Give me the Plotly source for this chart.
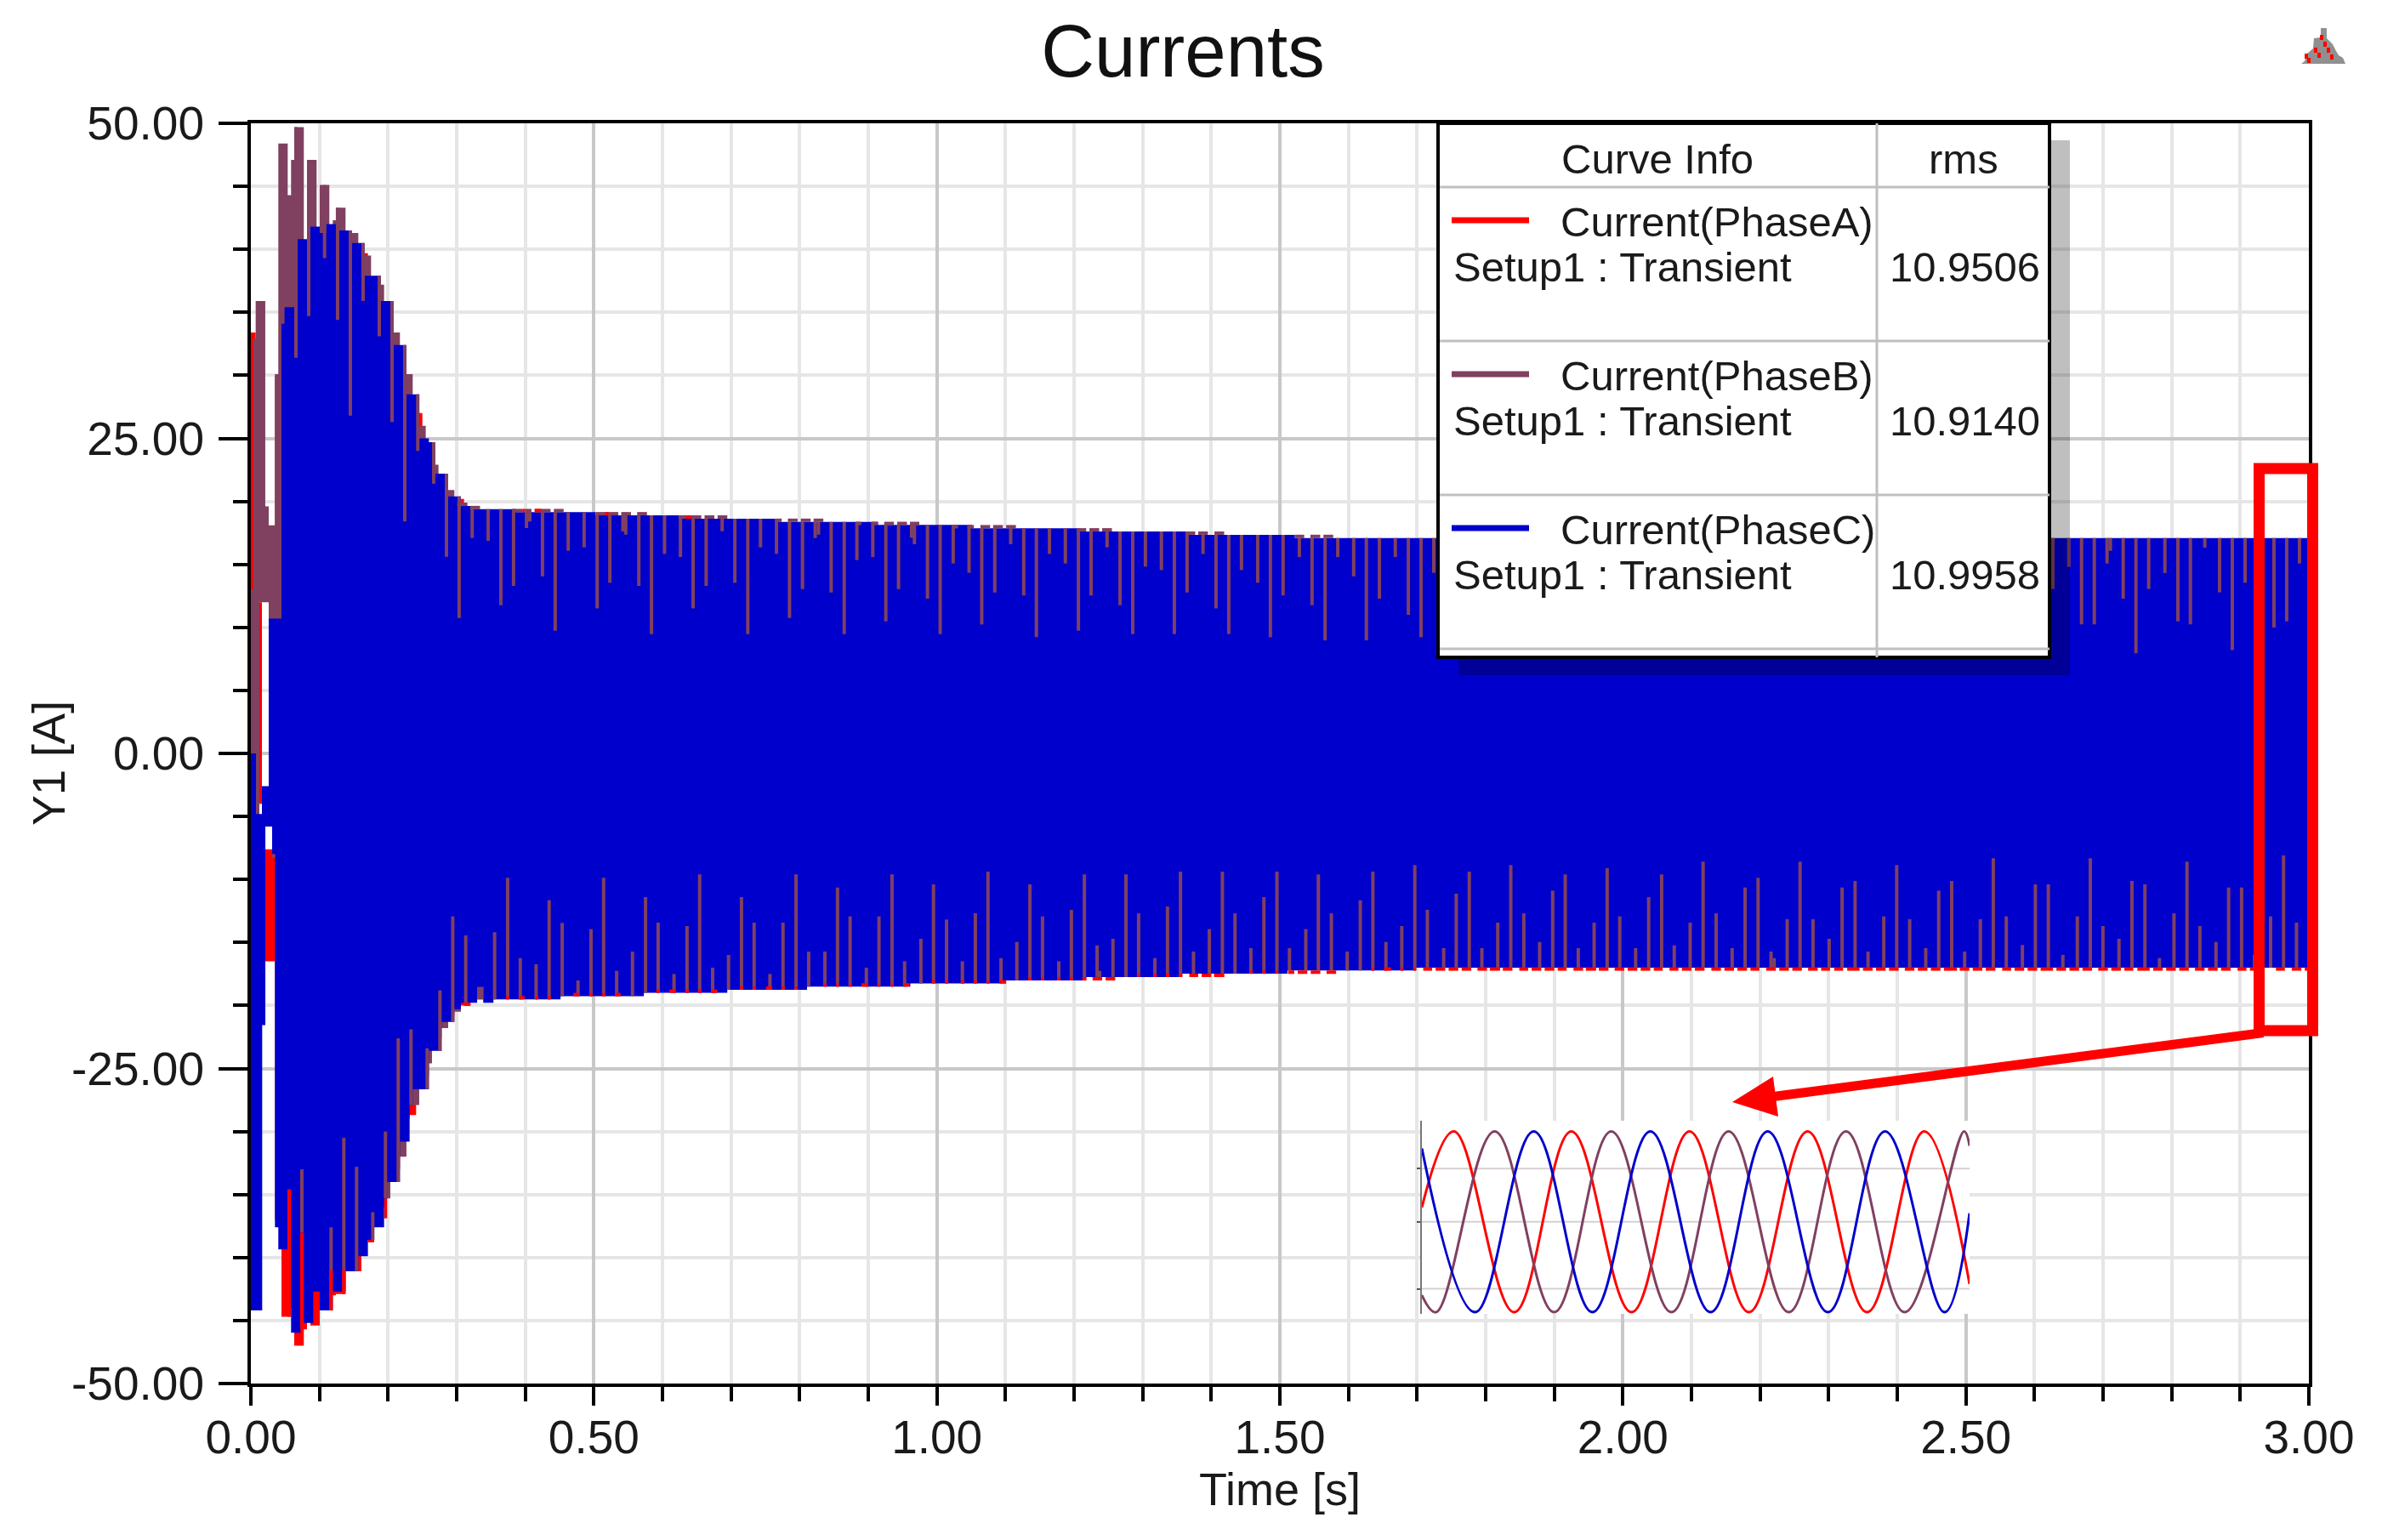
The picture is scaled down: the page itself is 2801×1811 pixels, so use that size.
import numpy as np
import plotly.graph_objects as go

# ------------------------------------------------------------
# 1. Values (time in s, current in A)
# ------------------------------------------------------------
y_ticks = [-50, -25, 0, 25, 50]
y_tick_labels = ["-50.00", "-25.00", "0.00", "25.00", "50.00"]
x_ticks = [0, 0.5, 1, 1.5, 2, 2.5, 3]
x_tick_labels = ["0.00", "0.50", "1.00", "1.50", "2.00", "2.50", "3.00"]
x_minor = [0.1, 0.2, 0.3, 0.4, 0.6, 0.7, 0.8, 0.9, 1.1, 1.2, 1.3, 1.4, 1.6, 1.7, 1.8, 1.9,
           2.1, 2.2, 2.3, 2.4, 2.6, 2.7, 2.8, 2.9]
y_minor = [-45, -40, -35, -30, -20, -15, -10, -5, 5, 10, 15, 20, 30, 35, 40, 45]

legend_names = ["Current(PhaseA)", "Current(PhaseB)", "Current(PhaseC)"]
legend_rms = ["10.9506", "10.9140", "10.9958"]

# step envelopes, phase A
a_up_t = [0, .0070, .0161, .0351, .1611, .1706, .1847, .1892, .2033, .2082, .2219, .2268, .2409, .2500,
          .2640, .2690, .2830, .2876, .3016, .3107, 3.0]
a_up_y = [33.4, 12, -7.6, 30, 39.7, 36, 37.7, 34, 34.7, 31, 31.1, 27, 27.0, 23, 23.7, 21, 21.4, 19.5, 20.2, 16.5, 16.5]
a_lo_t = [0, .0161, .0351, .0446, .0586, .0632, .0772, .0818, .0867, .1004, .1239, .1380, .1520, .1611,
          .1706, .1797, .1942, .1987, .2128, .2173, .2314, .2409, .2500, .2595, .2735, .2780, .2921, .2966,
          .3107, .3202, 3.0]
a_lo_y = [-4, -16.5, -37, -44.7, -44, -47, -45.7, -44, -45.4, -43, -42.9, -40, -41.1, -38, -38.8, -36, -36.9, -33,
          -33, -29, -28.7, -26, -25.6, -23.5, -22.6, -21, -20.8, -20, -20, -16, -16]

# step envelopes, phase B
b_up_t = [0, .0033, .0070, .0210, .0260, .0351, .0400, .0537, .0586, .0632, .0772, .0818, .0958, .1004, .1144,
          .1194, .1239, .1380, .1425, .1566, .1611, .1752, .1847, .1942, .2033, .2173, .2219, .2359, .2409,
          .2549, .2640, .2735, .2830, .2966, .3156, 3.0]
b_up_y = [13, 32.9, 35.9, 19.6, 18.1, 30.1, 48.4, 44.3, 47.1, 49.7, 38, 47.1, 38, 45.1, 41, 42.3, 43.3, 38, 41.3, 37,
          39.5, 35, 37.2, 33, 33.4, 30, 30.1, 25, 26.0, 23, 22.9, 20.5, 20.9, 19.9, 16.5, 16.5]
b_lo_t = [0, .0124, .026, .1942, .2033, .2128, .2268, .2314, .2454, .2549, .2640, .2735, .2876, .2966, .3062,
          .3298, .3387, 3.0]
b_lo_y = [-5, 12, -1, -35.3, -25, -32, -25, -27.9, -20, -24.6, -20, -21.8, -19, -20.5, -19, -19.54, -16, -16]

# step envelopes, phase C
c_up_t = [0, .0074, .0161, .0260, .0446, .0491, .0677, .0867, .1004, .1099, .1285, .1471, .1657, .1892, .2082,
          .2268, .2454, .2595, .2690, .2876, .3062, .3198, .3862, .5024, .6291, .7704, .9142, 1.0512, 1.2077,
          1.3667, 1.5218, 3.0]
c_up_y = [0, -4.8, -2.6, 10.7, 34.1, 35.4, 40.8, 41.8, 41.3, 42.0, 41.5, 40.5, 37.9, 35.9, 32.4, 28.5, 25.0, 24.7,
          22.2, 20.4, 19.63, 19.39, 19.14, 18.89, 18.62, 18.37, 18.13, 17.86, 17.61, 17.34, 17.09, 17.09]
c_lo_t = [0, .0165, .0211, .0310, .0351, .0400, .0537, .0586, .0723, .0772, .0909, .1004, .1194, .1380, .1566,
          .1706, .1797, .1942, .1987, .2173, .2314, .2359, .2595, .2780, .2966, .3061, .3298, .3387, .3536,
          .4514, .5729, .6945, .8107, .9613, 1.1006, 1.2175, 1.357, 1.511, 1.698, 3.0]
c_lo_y = [-44.2, -21.56, -5.8, -8, -37.6, -39.35, -34.6, -45.96, -38, -45.2, -42.7, -44.2, -42.7, -41.1, -39.9, -38.6,
          -37.6, -35.3, -34.0, -30.8, -27.9, -26.65, -23.6, -21.3, -20.3, -19.79, -18.53, -19.79, -19.52, -19.27,
          -19.0, -18.76, -18.51, -18.26, -18.01, -17.74, -17.47, -17.23, -17.0, -17.0]

# dips of phase B through the top of phase C (time, depth reached)
top_dip_t = [.0657, .0843, .1074, .1264, .1450, .1636, .1872, .2058, .2243, .2433, .2665, .2851,
             .3036, .3226, .3459, .3644, .3829, .4018, .4066, .4251, .4436, .4626, .4858, .5048, .5233, .5423,
             .5465, .5655, .5840, .6030, .6262, .6447, .6637, .6870, .7055, .7244, .7429, .7662, .7852, .8041,
             .8226, .8274, .8459, .8649, .8834, .9066, .9256, .9441, .9631, .9673, .9863, 1.0048, 1.0238,
             1.0469, 1.0654, 1.0844, 1.1076, 1.1266, 1.1451, 1.1641, 1.1873, 1.2063, 1.2248, 1.2481, 1.2670,
             1.2855, 1.3040, 1.3273, 1.3462, 1.3647, 1.3880, 1.4069, 1.4255, 1.4440, 1.4677, 1.4862, 1.5047,
             1.5284, 1.5469, 1.5659, 1.5844, 1.6076, 1.6261, 1.6451, 1.6683, 1.6873, 1.7058, 1.7244,
             2.6269, 2.6500, 2.6686, 2.6872, 2.7058, 2.7107, 2.7293, 2.7479, 2.7665, 2.7901, 2.8091, 2.8273,
             2.8483, 2.8698, 2.8884, 2.9070, 2.9491, 2.9677, 2.9863]
top_dip_y = [31.4, 34.7, 39.3, 34.4, 26.8, 35.9, 33.1, 26.3, 18.4, 24.0, 21.4, 15.6,
             10.75, 17.09, 16.87, 11.76, 13.29, 17.88, 18.4, 14.05, 9.74, 16.08, 16.35, 11.51, 13.54, 17.61,
             17.36, 13.29, 9.47, 15.83, 15.58, 11.51, 13.29, 17.63, 13.54, 9.47, 16.35, 15.83, 10.75, 13.04,
             17.09, 17.36, 12.77, 9.47, 15.34, 15.58, 10.48, 13.04, 17.11, 16.6, 12.28, 9.47, 15.07,
             14.33, 10.23, 12.77, 16.6, 12.53, 9.22, 15.83, 15.07, 9.74, 12.53, 16.35, 11.76,
             9.47, 14.82, 14.55, 9.47, 12.77, 15.83, 11.51, 9.47, 14.55, 13.54, 9.22, 12.53,
             15.58, 11.76, 8.97, 15.58, 14.05, 8.97, 12.28, 15.58, 11.0, 9.22, 14.33,
             13.05, 14.80, 10.24, 10.24, 15.07, 16.08, 12.28, 7.94, 13.05, 14.31, 10.48, 10.24,
             16.33, 12.78, 8.19, 13.54, 9.99, 10.48, 15.07]

# dips of phase B through the bottom of phase C
bot_dip_t = [.0330, .0743, .1169, .1355, .1541, .1777, .1962, .2148, .2334, .2570, .2756,
             .2943, .3132, .3364, .3553, .3743, .3927, .4158, .4348, .4538, .4769, .4958, .5142, .5332, .5563,
             .5753, .5937, .6168, .6358, .6542, .6731, .6963, .7152, .7336, .7567, .7757, .7947, .8131, .8368,
             .8552, .8735, .8972, .9156, .9346, .9530, .9767, .9951, 1.0141, 1.0372, 1.0561, 1.0745, 1.0935,
             1.1166, 1.1356, 1.1540, 1.1777, 1.1961, 1.2150, 1.2336, 1.2372, 1.2567, 1.2757, 1.2941, 1.3178,
             1.3362, 1.3551, 1.3741, 1.3972, 1.4162, 1.4346, 1.4577, 1.4767, 1.4957, 1.5140, 1.5378, 1.5561,
             1.5751, 1.5982, 1.6172, 1.6356, 1.6546, 1.6777, 1.6967, 1.7150, 1.7388, 1.7571, 1.7761, 1.7945,
             1.8176, 1.8366, 1.8556, 1.8787, 1.8977, 1.9160, 1.9350, 1.9581, 1.9771, 1.9955, 2.0186, 2.0376,
             2.0565, 2.0749, 2.0981, 2.1170, 2.1360, 2.1593, 2.1782, 2.1971, 2.2160, 2.2206, 2.2395, 2.2583,
             2.2772, 2.3007, 2.3196, 2.3385, 2.3574, 2.3803, 2.3992, 2.4181, 2.4415, 2.4604, 2.4793, 2.4982,
             2.5211, 2.5400, 2.5589, 2.5824, 2.6013, 2.6202, 2.6414, 2.6625, 2.6814, 2.6998, 2.7232, 2.7421,
             2.7610, 2.7822, 2.8034, 2.8223, 2.8412, 2.8646, 2.8830, 2.9019, 2.9207, 2.9442, 2.9631, 2.9820]
bot_dip_y = [-8.3, -33, -37.6, -30.5, -32.8, -36.4, -30, -22.6, -21.9, -23.4, -18.8,
             -12.93, -14.44, -18.53, -14.19, -9.87, -16.24, -16.73, -11.65, -13.45, -18.02, -13.94, -9.87, -17.25, -15.72,
             -11.40, -13.43, -17.5, -13.70, -9.60, -17.0, -15.99, -11.40, -13.43, -17.5, -13.43, -9.60, -15.72, -15.72,
             -10.64, -12.93, -17.0, -12.93, -9.60, -16.49, -14.71, -10.39, -13.18, -16.49, -12.68, -9.38, -16.24,
             -14.96, -10.39, -12.93, -16.49, -12.41, -9.60, -15.23, -17.25, -14.71, -9.60, -12.69, -16.24,
             -12.15, -9.38, -15.72, -13.94, -9.38, -12.69, -15.45, -11.40, -9.38, -15.45, -13.94, -9.60,
             -12.69, -15.72, -11.65, -9.38, -14.96, -13.70, -8.86, -12.41, -15.45, -11.13, -9.38, -15.45,
             -13.43, -8.86, -12.69, -14.96, -10.89, -9.60, -15.45, -13.43, -9.11, -12.93, -15.45, -11.40,
             -9.60, -15.23, -13.43, -8.59, -12.69, -15.45, -10.64, -9.87, -15.72, -16.24, -13.16, -8.59,
             -13.16, -14.71, -10.64, -10.12, -15.72, -12.93, -8.86, -13.16, -15.45, -10.89, -10.12, -15.72,
             -13.16, -8.32, -12.93, -15.2, -10.39, -10.39, -15.99, -12.93, -8.32, -13.70, -14.71, -10.12,
             -10.39, -16.24, -12.69, -8.59, -13.70, -14.96, -10.64, -10.64, -15.99, -12.93, -8.10, -13.43]

# short stretches where phase B stands just above phase C
cap_t0 = [.3008, .3198, .3814, .3995, .4137, .4417, .5024, .5399, .5631, .6234, .6613, .6803, .7643, .7828, .8017, .8203,
          .8815, .9047, .9232, .9422, .9607, 1.0227, 1.0445, 1.0635, 1.0820, 1.1010, 1.2039, 1.2224, 1.2409, 1.3624,
          1.3809, 1.4046, 1.5218, 1.5445, 1.5635]
cap_t1 = [.3150, .3340, .3957, .4090, .4369, .4559, .5356, .5541, .5774, .6566, .6756, .6945, .7738, .7970, .8160, .8345,
          .8900, .9142, .9374, .9564, .9744, 1.0308, 1.0540, 1.0777, 1.0962, 1.1152, 1.2177, 1.2366, 1.2552, 1.3766,
          1.3951, 1.4188, 1.5355, 1.5588, 1.5777]
cap_y = [19.76, 19.51, 19.27, 19.27, 19.27, 19.27, 19.02, 19.02, 19.02, 18.76, 18.76, 18.76, 18.5, 18.5, 18.5, 18.5,
         18.25, 18.25, 18.25, 18.25, 18.25, 17.99, 17.99, 17.99, 17.99, 17.99, 17.74, 17.74, 17.74, 17.48,
         17.48, 17.48, 17.22, 17.22, 17.22]

# red slips along the top and bottom edges
red_top_t0 = [.3957, .4137, .5166, .6338]
red_top_t1 = [.3995, .4232, .5214, .6424]
red_top_y = [19.27, 19.27, 19.02, 18.76]
red_bot_t0 = [.311, .372, .391, .415, .433, .470, .494, .512, .531, .591, .610, .634, .652, .671, .713, .732, .751, .774, .793,
              .835, .853, .872, .890, .914, .933, .951, .993, 1.012, 1.035, 1.054, 1.073, 1.091, 1.133, 1.152, 1.176, 1.194,
              1.212, 1.227, 1.246, 1.292, 1.316, 1.334, 1.354, 1.368, 1.386, 1.404, 1.456, 1.475, 1.494, 1.512, 1.526, 1.545,
              1.568, 1.634, 1.652, 1.676, 1.695, 1.709, 1.727, 1.746, 1.765, 1.788, 1.806, 1.825, 1.849, 1.867, 1.886, 1.905,
              1.928, 1.946, 1.965, 1.988, 2.007, 2.026, 2.045, 2.068, 2.086, 2.105, 2.129, 2.148, 2.167, 2.186, 2.209, 2.228,
              2.247, 2.270, 2.289, 2.308, 2.327, 2.350, 2.369, 2.388, 2.411, 2.430, 2.449, 2.468, 2.491, 2.510, 2.529, 2.553,
              2.571, 2.590, 2.609, 2.632, 2.651, 2.670, 2.693, 2.712, 2.731, 2.750, 2.773, 2.792, 2.811, 2.834, 2.853, 2.872,
              2.896, 2.914, 2.952, 2.975, 2.994]
red_bot_t1 = [.320, .376, .399, .419, .437, .479, .498, .517, .539, .595, .619, .638, .657, .680, .717, .735, .760, .778, .797,
              .839, .857, .876, .900, .917, .936, .960, .997, 1.016, 1.040, 1.058, 1.076, 1.101, 1.137, 1.156, 1.180, 1.198,
              1.218, 1.241, 1.260, 1.296, 1.320, 1.339, 1.358, 1.381, 1.400, 1.419, 1.460, 1.479, 1.497, 1.521, 1.540, 1.559,
              1.582, 1.637, 1.662, 1.680, 1.698, 1.722, 1.741, 1.760, 1.779, 1.802, 1.821, 1.839, 1.862, 1.881, 1.900, 1.918,
              1.942, 1.961, 1.979, 2.002, 2.021, 2.040, 2.058, 2.081, 2.100, 2.119, 2.143, 2.162, 2.181, 2.199, 2.223, 2.242,
              2.261, 2.284, 2.302, 2.321, 2.345, 2.364, 2.383, 2.402, 2.425, 2.444, 2.463, 2.487, 2.505, 2.524, 2.543, 2.566,
              2.585, 2.604, 2.627, 2.646, 2.665, 2.684, 2.707, 2.726, 2.744, 2.768, 2.787, 2.806, 2.825, 2.848, 2.867, 2.886,
              2.909, 2.933, 2.965, 2.989, 3.0]
red_level_t = [.30, .35, .46, .585, .70, .83, .98, 1.12, 1.28, 1.44, 1.63]
red_level_y = [-19.9, -19.39, -19.14, -18.87, -18.62, -18.37, -18.13, -17.88, -17.61, -17.36, -17.11]
red_dip_t = [.0557, .0743, .1169, .1355]
red_dip_y0 = [-34.6, -38.1, -41, -41]
red_dip_y1 = [-44.7, -45.7, -44.2, -42.9]

# zoomed window 2.93 s to 3.00 s, drawn from its peaks and troughs
zoom_a_t = [2.93, 2.9341, 2.9418, 2.9491, 2.9568, 2.9642, 2.9718, 2.9793, 2.9869, 2.9942, 3.0]
zoom_a_y = [2.7, 17, -17, 17, -17, 17, -17, 17, -17, 17, -11.7]
zoom_b_t = [2.93, 2.9318, 2.9393, 2.9469, 2.9542, 2.9619, 2.9692, 2.9769, 2.9842, 2.9917, 2.9993, 3.0]
zoom_b_y = [-13.8, -17, 17, -17, 17, -17, 17, -17, 17, -17, 17, 14.3]
zoom_c_t = [2.93, 2.9368, 2.9443, 2.9518, 2.9592, 2.9669, 2.9742, 2.9819, 2.9892, 2.9968, 3.0]
zoom_c_y = [13.8, -17, 17, -17, 17, -17, 17, -17, 17, -17, 1.6]
zoom_grid = [-12.6, 0, 10]
zoom_x_range = [2.93, 3.0]
zoom_y_range = [-17.3, 19]

# ------------------------------------------------------------
# 2. Helpers
# ------------------------------------------------------------
RED = "#ff0000"
BROWN = "#804060"
BLUE = "#0000cc"
FONT = "Liberation Sans"
TEXT = "#1a1a1a"

L, R, T, B = 295, 2715, 145, 1627
PAGE = 8  # the browser's body margin


def fx(px):
    return (px - L) / (R - L)


def fy(py):
    return (B - py) / (B - T)


def step_at(ts, ys, t):
    idx = np.searchsorted(ts, t, side="right") - 1
    return np.array(ys)[idx]


def segments(x0, y0, x1, y1):
    xs, ys = [], []
    for a, b, c, d in zip(x0, y0, x1, y1):
        xs += [a, c, None]
        ys += [b, d, None]
    return xs, ys


def poly(pts):
    return "M" + " L".join(f"{fx(x):.5f},{fy(y):.5f}" for x, y in pts) + " Z"


def band(fig, t_lo, y_lo, t_up, y_up, color, name):
    fig.add_trace(go.Scatter(x=t_lo, y=y_lo, mode="lines", line=dict(width=0, shape="hv", color=color),
                             showlegend=False, hoverinfo="skip"))
    fig.add_trace(go.Scatter(x=t_up, y=y_up, mode="lines", line=dict(width=0, shape="hv", color=color),
                             fill="tonexty", fillcolor=color, name=name, showlegend=False))


def seg_trace(fig, x0, y0, x1, y1, color, width=4, **kw):
    xs, ys = segments(x0, y0, x1, y1)
    fig.add_trace(go.Scatter(x=xs, y=ys, mode="lines", line=dict(color=color, width=width),
                             showlegend=False, hoverinfo="skip", **kw))


# ------------------------------------------------------------
# 3. Traces
# ------------------------------------------------------------
fig = go.Figure()

band(fig, a_lo_t, a_lo_y, a_up_t, a_up_y, RED, legend_names[0])
band(fig, b_lo_t, b_lo_y, b_up_t, b_up_y, BROWN, legend_names[1])
band(fig, c_lo_t, c_lo_y, c_up_t, c_up_y, BLUE, legend_names[2])

# phase B showing through phase C
top_from = np.maximum(step_at(c_up_t, c_up_y, top_dip_t), step_at(b_up_t, b_up_y, top_dip_t))
seg_trace(fig, top_dip_t, top_from, top_dip_t, top_dip_y, BROWN)
bot_from = step_at(c_lo_t, c_lo_y, bot_dip_t)
seg_trace(fig, bot_dip_t, bot_dip_y, bot_dip_t, bot_from, BROWN)
seg_trace(fig, cap_t0, cap_y, cap_t1, cap_y, BROWN)

# phase A showing at the edges
seg_trace(fig, red_top_t0, red_top_y, red_top_t1, red_top_y, RED)
red_bot_y = step_at(red_level_t, red_level_y, red_bot_t0)
seg_trace(fig, red_bot_t0, red_bot_y, red_bot_t1, red_bot_y, RED)
seg_trace(fig, red_dip_t, red_dip_y0, red_dip_t, red_dip_y1, RED)

# zoomed window: white backing, its own faint grid, then the curves
fig.add_trace(go.Scatter(x=[zoom_x_range[0], zoom_x_range[1], zoom_x_range[1], zoom_x_range[0]],
                         y=[zoom_y_range[0], zoom_y_range[0], zoom_y_range[1], zoom_y_range[1]],
                         mode="lines", xaxis="x2", yaxis="y2", fill="toself", fillcolor="white",
                         line=dict(width=0), showlegend=False, hoverinfo="skip"))
seg_trace(fig, [zoom_x_range[0]] * 3, zoom_grid, [zoom_x_range[1]] * 3, zoom_grid, "#d8d0d0", width=2,
          xaxis="x2", yaxis="y2")
for ts, ys, col in [(zoom_a_t, zoom_a_y, RED), (zoom_b_t, zoom_b_y, BROWN), (zoom_c_t, zoom_c_y, BLUE)]:
    fig.add_trace(go.Scatter(x=ts, y=ys, mode="lines", xaxis="x2", yaxis="y2",
                             line=dict(color=col, width=3, shape="spline", smoothing=1.1),
                             showlegend=False, hoverinfo="skip"))

# ------------------------------------------------------------
# 4. Decorations: curve info box, highlight, arrow, logo
# ------------------------------------------------------------
shapes = []
annos = []


def box(x0, y0, x1, y1, **kw):
    shapes.append(dict(type="rect", xref="paper", yref="paper", x0=fx(x0), y0=fy(y0), x1=fx(x1), y1=fy(y1),
                       layer="above", **kw))


def hline(x0, y0, x1, y1, color, width):
    shapes.append(dict(type="line", xref="paper", yref="paper", x0=fx(x0), y0=fy(y0), x1=fx(x1), y1=fy(y1),
                       layer="above", line=dict(color=color, width=width)))


def label(x, y, text, anchor="left", size=49):
    annos.append(dict(x=fx(x), y=fy(y), xref="paper", yref="paper", text=text, showarrow=False, xanchor=anchor,
                      yanchor="middle", font=dict(family=FONT, size=size, color=TEXT)))


box(1715, 165, 2434, 794, fillcolor="rgba(0,0,0,0.25)", line=dict(width=0))
box(1691, 145, 2410, 773, fillcolor="white", line=dict(color="black", width=4))
hline(2207, 145, 2207, 773, "#c0c0c0", 3)
for yy in [220, 401, 582, 763]:
    hline(1693, yy, 2410, yy, "#c0c0c0", 3)

label(1949, 187, "Curve Info", "center")
label(2309, 187, "rms", "center")
for i, (nm, rms, col) in enumerate(zip(legend_names, legend_rms, [RED, BROWN, BLUE])):
    dy = 181 * i
    hline(1707, 259 + dy, 1798, 259 + dy, col, 7)
    label(1833, 261 + dy, nm)
    label(1707, 314 + dy, "Setup1 : Transient")
    label(2310, 314 + dy, rms, "center")

# red frame round the last 0.07 s
box(2656.5, 551, 2719.5, 1212, line=dict(color=RED, width=13))

# arrow to the zoomed window
shapes.append(dict(type="path", xref="paper", yref="paper", layer="above", fillcolor=RED, line=dict(width=0),
                   path=poly([(2661, 1209), (2662, 1220), (2086, 1295), (2085, 1284)])))
shapes.append(dict(type="path", xref="paper", yref="paper", layer="above", fillcolor=RED, line=dict(width=0),
                   path=poly([(2037, 1296), (2091, 1313), (2085, 1266)])))

# logo
shapes.append(dict(type="path", xref="paper", yref="paper", layer="above", fillcolor="#909090", line=dict(width=0),
                   path=poly([(2706, 75), (2710, 72), (2713, 63), (2720, 57), (2721, 45), (2729, 44), (2729, 33),
                              (2736, 33), (2736, 45), (2743, 52), (2747, 60), (2750, 65), (2755, 68), (2758, 75)])))
for lx, ly in [(2730, 44), (2734, 52), (2738, 59), (2742, 67), (2723, 59), (2727, 65), (2712, 66), (2715, 71)]:
    box(lx - 2, ly - 3, lx + 2, ly + 3, fillcolor=RED, line=dict(width=0))

# y axis title sits closer to the labels than a plotly standoff allows
annos.append(dict(x=fx(57), y=fy(898), xref="paper", yref="paper", text="Y1 [A]", textangle=-90, showarrow=False,
                  xanchor="center", yanchor="middle", font=dict(family=FONT, size=54, color=TEXT)))

# ------------------------------------------------------------
# 5. Layout
# ------------------------------------------------------------
W, H = 2801 - 2 * PAGE, 1811 - 2 * PAGE
fig.update_layout(
    width=W,
    height=H,
    margin=dict(l=L - PAGE, r=W + PAGE - R, t=T - PAGE, b=H + PAGE - B),
    paper_bgcolor="white",
    plot_bgcolor="white",
    showlegend=False,
    font=dict(family=FONT, color=TEXT),
    title=dict(text="Currents", x=(1391 - PAGE) / W, y=1 - (60 - PAGE) / H, xanchor="center", yanchor="middle",
               font=dict(family=FONT, size=87, color="#111111")),
    xaxis=dict(
        range=[0, 3], tickmode="array", tickvals=x_ticks, ticktext=x_tick_labels,
        ticks="outside", ticklen=22, tickwidth=4, tickcolor="black", ticklabelstandoff=-10,
        tickfont=dict(family=FONT, size=55, color=TEXT),
        showline=True, linecolor="black", linewidth=4, mirror=True, zeroline=False,
        showgrid=True, gridcolor="#c8c8c8", gridwidth=4,
        minor=dict(tickmode="array", tickvals=x_minor, ticks="outside", ticklen=17, tickwidth=4, tickcolor="black",
                   showgrid=True, gridcolor="#e6e6e6", gridwidth=4),
        title=dict(text="Time [s]", font=dict(family=FONT, size=54, color=TEXT), standoff=4),
    ),
    yaxis=dict(
        range=[-50, 50], tickmode="array", tickvals=y_ticks, ticktext=y_tick_labels,
        ticks="outside", ticklen=34, tickwidth=4, tickcolor="black", ticklabelstandoff=6,
        tickfont=dict(family=FONT, size=55, color=TEXT),
        showline=True, linecolor="black", linewidth=4, mirror=True, zeroline=False,
        showgrid=True, gridcolor="#c8c8c8", gridwidth=4,
        minor=dict(tickmode="array", tickvals=y_minor, ticks="outside", ticklen=17, tickwidth=4, tickcolor="black",
                   showgrid=True, gridcolor="#e6e6e6", gridwidth=4),
    ),
    xaxis2=dict(
        domain=[fx(1672), fx(2316)], range=zoom_x_range, anchor="y2",
        showticklabels=False, showgrid=False, zeroline=False, ticks="", showline=False,
    ),
    yaxis2=dict(
        domain=[fy(1545), fy(1318)], range=zoom_y_range, anchor="x2",
        tickmode="array", tickvals=zoom_grid, showticklabels=False, ticks="outside", ticklen=4, tickwidth=2,
        tickcolor="#555555", showgrid=False, zeroline=False,
        showline=True, linecolor="#777777", linewidth=2,
    ),
    shapes=shapes,
    annotations=annos,
)

fig.write_html("out.html")
